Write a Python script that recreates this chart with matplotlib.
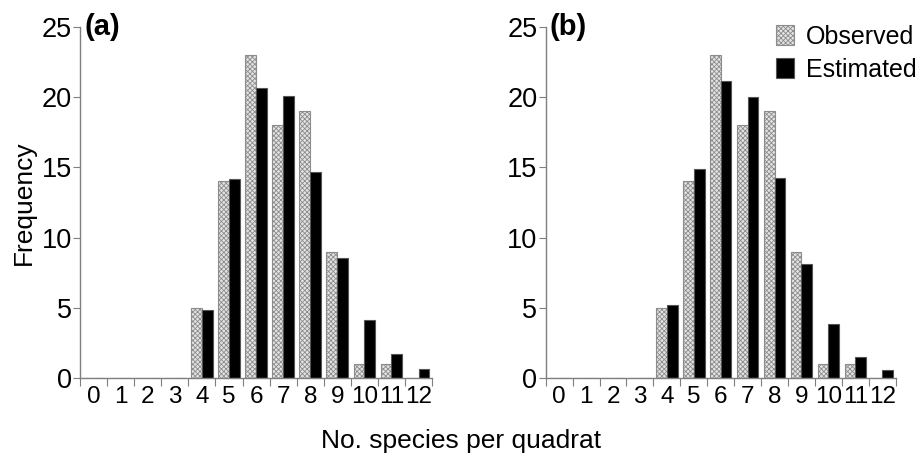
import numpy as np
import matplotlib.pyplot as plt

plt.rcParams['font.family'] = ['Liberation Sans', 'DejaVu Sans']
plt.rcParams['hatch.linewidth'] = 0.6

species = list(range(13))
observed = [0, 0, 0, 0, 5, 14, 23, 18, 19, 9, 1, 1, 0]
estimated_a = [0, 0, 0, 0, 4.87, 14.15, 20.66, 20.11, 14.67, 8.57, 4.15, 1.73, 0.64]
estimated_b = [0, 0, 0, 0, 5.22, 14.86, 21.18, 20.01, 14.25, 8.10, 3.85, 1.52, 0.55]

axis_grey = '#7f7f7f'


def draw_panel(ax, estimated, label):
    x = np.array(species)
    w = 0.4
    ax.bar(x - w / 2, observed, width=w, color='#e3e3e3', edgecolor='#8c8c8c',
           hatch='xxxxxxx', linewidth=0.8, label='Observed')
    ax.bar(x + w / 2, estimated, width=w, color='black', edgecolor='#555555',
           linewidth=0.8, label='Estimated')
    ax.set_xlim(-0.5, 12.5)
    ax.set_ylim(0, 25)
    ax.spines['top'].set_visible(False)
    ax.spines['right'].set_visible(False)
    for s in ('left', 'bottom'):
        ax.spines[s].set_color(axis_grey)
        ax.spines[s].set_linewidth(1.0)
    ax.set_yticks([0, 5, 10, 15, 20, 25])
    ax.set_xticks(np.arange(-0.5, 13, 1))
    ax.set_xticklabels([])
    ax.set_xticks(x, minor=True)
    ax.set_xticklabels([str(v) for v in species], minor=True)
    ax.tick_params(axis='x', which='major', direction='out', length=6, color=axis_grey)
    ax.tick_params(axis='x', which='minor', length=0, labelsize=17.5, pad=6)
    ax.tick_params(axis='y', direction='out', length=5, color=axis_grey, labelsize=19.5, pad=1)
    ax.text(0.012, 1.0, label, transform=ax.transAxes, fontsize=21, fontweight='bold',
            va='center', ha='left')


fig = plt.figure(figsize=(9.22, 4.59), dpi=100)
ax1 = fig.add_axes([0.0868, 0.1765, 0.3818, 0.7647])
ax2 = fig.add_axes([0.5919, 0.1765, 0.3796, 0.7647])

draw_panel(ax1, estimated_a, '(a)')
draw_panel(ax2, estimated_b, '(b)')

ax1.set_ylabel('Frequency', fontsize=19, labelpad=4)
ax2.legend(loc='upper left', bbox_to_anchor=(0.657, 1.006), frameon=False, fontsize=18,
           handlelength=0.75, handleheight=0.85, handletextpad=0.45, labelspacing=0.35,
           borderaxespad=0, borderpad=0)
fig.text(0.5, 0.04, 'No. species per quadrat', ha='center', va='center', fontsize=19)

fig.savefig('out.png', dpi=100)
